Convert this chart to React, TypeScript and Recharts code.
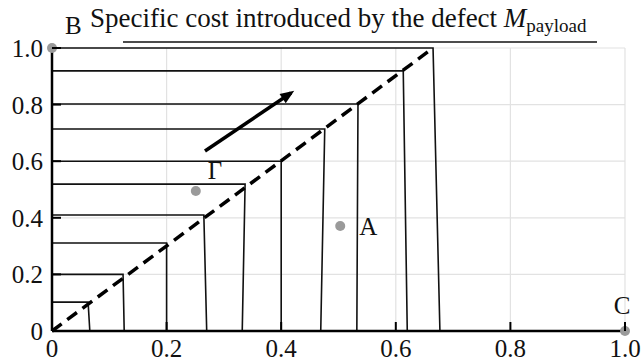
import { CartesianGrid, ComposedChart, Line, Scatter, XAxis, YAxis } from "recharts"

const ticks = [0, 0.2, 0.4, 0.6, 0.8, 1.0]
const tickLabels = ["0", "0.2", "0.4", "0.6", "0.8", "1.0"]

// staircase: horizontal at level, then down to the x axis
const stepLevels = [0.102, 0.2, 0.311, 0.41, 0.519, 0.6, 0.714, 0.802, 0.919, 1.0]
const stepTopX = [0.063, 0.124, 0.2, 0.265, 0.337, 0.4, 0.476, 0.534, 0.613, 0.665]
const stepBottomX = [0.066, 0.126, 0.2, 0.27, 0.332, 0.4, 0.469, 0.532, 0.62, 0.677]

const diagonal = [{ x: 0, y: 0 }, { x: 0.665, y: 1.0 }]
const arrow = [{ x: 0.267, y: 0.636 }, { x: 0.417, y: 0.841 }]

const pointNames = ["B", "Γ", "A", "C"]
const pointX = [0, 0.251, 0.503, 1.0]
const pointY = [1.0, 0.495, 0.371, 0]

const points = pointNames.map((name, i) => ({ name, x: pointX[i], y: pointY[i] }))

const labelPos: Record<string, [number, number, "start" | "middle"]> = {
  B: [13, -14, "start"],
  "Γ": [12, -12, "start"],
  A: [19, 9, "start"],
  C: [-3, -17, "middle"],
}

const font = "'Liberation Serif', 'Times New Roman', serif"

const fmt = (v: number) => tickLabels[ticks.indexOf(v)] ?? String(v)

const YTick = (props: any) => {
  const { x, y, payload } = props
  return (
    <g>
      {payload.value > 0 && <line x1={x} x2={x + 9} y1={y} y2={y} stroke="#000" strokeWidth={2} />}
      <text x={x - 9} y={y + 9} textAnchor="end" fontSize={25} fontFamily={font} fill="#111">
        {fmt(payload.value)}
      </text>
    </g>
  )
}

const XTick = (props: any) => {
  const { x, y, payload } = props
  return (
    <g>
      {payload.value > 0 && <line x1={x} x2={x} y1={y} y2={y - 9} stroke="#000" strokeWidth={2} />}
      <text x={x} y={y + 26} textAnchor="middle" fontSize={25} fontFamily={font} fill="#111">
        {fmt(payload.value)}
      </text>
    </g>
  )
}

const ArrowHead = (props: any) => {
  const { index, cx, cy, points: pts } = props
  if (index !== 1 || !pts || pts.length < 2) return <g />
  const a = Math.atan2(cy - pts[0].y, cx - pts[0].x)
  const tipX = cx + 4 * Math.cos(a)
  const tipY = cy + 4 * Math.sin(a)
  const len = 14
  const half = 5.5
  const bx = tipX - len * Math.cos(a)
  const by = tipY - len * Math.sin(a)
  const p1 = `${bx + half * Math.sin(a)},${by - half * Math.cos(a)}`
  const p2 = `${bx - half * Math.sin(a)},${by + half * Math.cos(a)}`
  return <polygon points={`${tipX},${tipY} ${p1} ${p2}`} fill="#000" />
}

const PointShape = (props: any) => {
  const { cx, cy, payload } = props
  const [dx, dy, anchor] = labelPos[payload.name]
  return (
    <g>
      <circle cx={cx} cy={cy} r={5} fill="#9a9a9a" />
      <text x={cx + dx} y={cy + dy} textAnchor={anchor} fontSize={25} fontFamily={font} fill="#111">
        {payload.name}
      </text>
    </g>
  )
}

export default function App() {
  return (
    <div style={{ position: "absolute", left: 0, top: 0, width: 641, height: 362, background: "#fff" }}>
      <ComposedChart width={641} height={362} margin={{ top: 48, right: 16, bottom: 0, left: 8 }}>
        <CartesianGrid stroke="#e2e2e2" strokeWidth={1.2} />
        <XAxis
          type="number"
          dataKey="x"
          domain={[0, 1]}
          ticks={ticks}
          height={31}
          tickSize={0}
          tickMargin={0}
          tickLine={false}
          tick={<XTick />}
          axisLine={{ stroke: "#000", strokeWidth: 2.5 }}
        />
        <YAxis
          type="number"
          dataKey="y"
          domain={[0, 1]}
          ticks={ticks}
          width={44}
          tickSize={0}
          tickMargin={0}
          tickLine={false}
          tick={<YTick />}
          axisLine={{ stroke: "#000", strokeWidth: 2.5 }}
        />
        {stepLevels.map((lv, i) => (
          <Line
            key={"step" + i}
            data={[
              { x: 0, y: lv },
              { x: stepTopX[i], y: lv },
              { x: stepBottomX[i], y: 0 },
            ]}
            dataKey="y"
            type="linear"
            stroke="#111"
            strokeWidth={1.6}
            dot={false}
            isAnimationActive={false}
          />
        ))}
        <Line
          data={diagonal}
          dataKey="y"
          type="linear"
          stroke="#000"
          strokeWidth={3.5}
          strokeDasharray="12 7"
          dot={false}
          isAnimationActive={false}
        />
        <Line
          data={arrow}
          dataKey="y"
          type="linear"
          stroke="#000"
          strokeWidth={3.5}
          dot={<ArrowHead />}
          isAnimationActive={false}
        />
        <Scatter data={points} dataKey="y" shape={<PointShape />} isAnimationActive={false} />
      </ComposedChart>
      <svg width={641} height={50} style={{ position: "absolute", left: 0, top: 0, pointerEvents: "none" }}>
        <text x={90} y={27} fontSize={27} fontFamily={font} fill="#111">
          Specific cost introduced by the defect{" "}
          <tspan fontStyle="italic">M</tspan>
          <tspan fontSize={19} dy={5}>payload</tspan>
        </text>
        <line x1={123} x2={597} y1={42} y2={42} stroke="#111" strokeWidth={1.5} />
      </svg>
    </div>
  )
}
